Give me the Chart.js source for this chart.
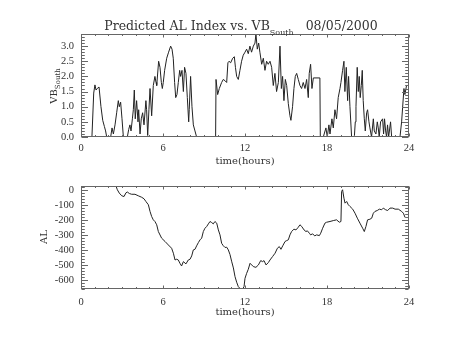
<!DOCTYPE html>
<html>
<head>
<meta charset="utf-8">
<script src="https://cdn.jsdelivr.net/npm/chart.js@4/dist/chart.umd.min.js"></script>
<style>
  html, body { margin: 0; padding: 0; background: #fff; }
  #wrap { position: relative; width: 454px; height: 341px; }
  canvas { position: absolute; left: 0; }
  #vb { top: 0; }
  #al { top: 170px; }
</style>
</head>
<body>
<div id="wrap">
  <canvas id="vb" width="454" height="170"></canvas>
  <canvas id="al" width="454" height="171"></canvas>
</div>
<script>
// tick labels
const hourTicks = [0, 6, 12, 18, 24];
const vbTicks = [0, 0.5, 1, 1.5, 2, 2.5, 3];
const alTicks = [0, -100, -200, -300, -400, -500, -600];

// VB south (mV/m) against time in hours
const vbHours = [0, 0.8, 0.93, 1.02, 1.1, 1.19, 1.32, 1.46, 1.59, 1.71, 1.8, 1.88,
  2.17, 2.27, 2.37, 2.49, 2.61, 2.73, 2.8, 2.9, 3.0, 3.1,
  3.39, 3.49, 3.58, 3.66, 3.76, 3.83, 3.9, 3.97, 4.07, 4.17, 4.22, 4.32, 4.41, 4.51, 4.61, 4.75, 4.8, 4.88, 4.97,
  5.05, 5.17, 5.29, 5.41, 5.49, 5.54, 5.68, 5.78, 5.88, 5.95, 6.02, 6.12, 6.27, 6.41, 6.56, 6.66, 6.75, 6.85, 6.93,
  7.02, 7.12, 7.22, 7.29, 7.39, 7.49, 7.58, 7.68, 7.78, 7.88, 7.92, 8.02, 8.12, 8.22, 8.34, 8.46,
  9.85, 9.88, 10.0, 10.12, 10.29, 10.41, 10.56, 10.66, 10.75, 10.83, 10.95, 11.1, 11.22, 11.3, 11.39, 11.51, 11.63,
  11.75, 11.87, 12.0, 12.12, 12.24, 12.36, 12.48, 12.61, 12.73, 12.8, 12.9, 13.0, 13.09, 13.22, 13.34, 13.46, 13.58,
  13.7, 13.83, 13.95, 14.07, 14.19, 14.31, 14.44, 14.56, 14.66, 14.75, 14.85, 14.95, 15.05, 15.17, 15.29, 15.36,
  15.48, 15.58, 15.68, 15.78, 15.9, 16.02, 16.14, 16.26, 16.39, 16.51, 16.63, 16.7, 16.8, 16.9, 17.0, 17.48, 17.51,
  17.73, 17.92, 18.02, 18.14, 18.22, 18.36, 18.46, 18.58, 18.7, 18.82, 18.95, 19.02, 19.14, 19.24, 19.31, 19.41,
  19.51, 19.58, 19.68, 19.8,
  20.0, 20.07, 20.12, 20.21, 20.29, 20.36, 20.43, 20.51, 20.58, 20.65, 20.73, 20.8, 20.9, 20.97, 21.07, 21.14,
  21.26, 21.39, 21.46, 21.58, 21.68, 21.75, 21.82, 21.92, 22.07, 22.14, 22.21, 22.29, 22.36, 22.43, 22.51, 22.65, 22.73,
  23.34, 23.46, 23.63, 23.7, 23.82];
const vbSouth = [0, 0, 1.45, 1.72, 1.55, 1.6, 1.65, 1.0, 0.55, 0.35, 0.2, 0,
  0, 0.3, 0.1, 0.4, 0.8, 1.2, 1.0, 1.15, 0.6, 0,
  0, 0.25, 0.4, 0.2, 0.6, 0.9, 1.55, 0.6, 1.2, 0.5, 0.9, 0.1, 0.6, 0.8, 0.4, 1.2, 0.9, 0.05, 0.9,
  1.6, 0.7, 1.7, 2.0, 1.8, 1.7, 2.5, 2.3, 1.8, 1.6, 1.8, 2.2, 2.6, 2.8, 3.0, 2.9, 2.6, 1.8, 1.3,
  1.4, 1.8, 2.2, 2.0, 2.2, 1.5, 2.3, 2.1, 1.3, 0.5, 0.9, 2.0, 1.0, 0.4, 0.2, 0,
  0, 1.9, 1.4, 1.6, 1.8, 1.9, 1.85, 1.8, 2.45, 2.5, 2.45, 2.6, 2.65, 2.3, 2.0, 1.9, 2.2,
  2.5, 2.7, 2.8, 2.9, 2.75, 3.0, 2.8, 3.0, 3.1, 3.4, 2.9, 3.1, 2.8, 2.4, 2.6, 2.2, 2.5,
  2.4, 2.5, 2.3, 1.7, 2.1, 1.5, 1.8, 3.0, 1.6, 2.0, 1.2, 1.9, 1.7, 1.1, 0.7, 0.55,
  1.0, 1.6, 2.0, 2.1, 1.9, 1.7, 1.6, 1.8, 1.6, 1.9, 1.3, 2.1, 2.4, 1.6, 1.95, 1.95, 0,
  0, 0.3, 0, 0.4, 0.1, 0.6, 0.3, 0.9, 0.6, 1.3, 1.6, 1.8, 2.2, 2.5, 1.5, 2.3,
  1.2, 2.0, 1.0, 0,
  0, 0.5, 1.0, 2.3, 1.5, 2.0, 1.3, 1.7, 2.2, 1.2, 0.6, 0.2, 0.8, 0.9, 0.5, 0.3,
  0, 0.6, 0.2, 0.1, 0.5, 0.3, 0, 0.5, 0.6, 0.1, 0.6, 0.2, 0, 0.4, 0, 0.5, 0,
  0, 0.5, 1.6, 1.4, 1.7];

// predicted AL index (nT)
const alHours = [0, 2.56, 2.66, 2.8, 2.98, 3.15, 3.29, 3.39, 3.54, 3.71, 3.95, 4.19, 4.44, 4.61, 4.75, 4.93,
  5.05, 5.17, 5.29, 5.41, 5.54, 5.66, 5.9, 6.15, 6.39, 6.63, 6.76, 6.88, 7.0, 7.12, 7.24, 7.36, 7.49, 7.68, 7.85,
  7.98, 8.1, 8.22, 8.34, 8.46, 8.59, 8.71, 8.83, 8.95, 9.07, 9.2, 9.32, 9.44, 9.56, 9.68, 9.8, 9.93, 10.05, 10.17,
  10.29, 10.41, 10.54, 10.66, 10.78, 10.9, 11.02, 11.15, 11.27, 11.39, 11.51, 11.63, 11.83, 11.93, 12.0, 12.12,
  12.24, 12.37, 12.49, 12.61, 12.8, 12.98, 13.15, 13.29, 13.39, 13.54, 13.71, 13.83, 14.02, 14.2, 14.37, 14.51,
  14.63, 14.76, 14.93, 15.05, 15.17, 15.29, 15.41, 15.58, 15.73, 15.9, 16.02, 16.15, 16.32, 16.46, 16.56, 16.71,
  16.8, 16.95, 17.1, 17.24, 17.44, 17.54, 17.68, 17.85, 17.97, 18.22, 18.46, 18.7, 18.9, 19.02, 19.07, 19.14,
  19.24, 19.32, 19.44, 19.56, 19.68, 19.88, 20.05, 20.22, 20.41, 20.61, 20.73, 20.85, 20.97, 21.14, 21.27, 21.39,
  21.51, 21.68, 21.83, 22.0, 22.12, 22.29, 22.44, 22.61, 22.81, 22.98, 23.22, 23.46, 23.59, 23.71];
const alIndex = [25, 25, 0, -22, -40, -45, -20, -15, -25, -30, -30, -40, -50, -60, -78, -100,
  -144, -178, -200, -211, -233, -278, -322, -344, -367, -389, -422, -467, -462, -467, -489, -507, -478, -493, -467,
  -462, -440, -400, -396, -373, -351, -333, -322, -278, -256, -244, -227, -211, -218, -227, -211, -222, -267, -300,
  -356, -372, -384, -382, -400, -430, -475, -520, -578, -615, -644, -656, -660, -644, -589, -556,
  -529, -489, -500, -511, -516, -500, -471, -478, -471, -500, -484, -467, -444, -422, -389, -378,
  -396, -373, -344, -338, -333, -300, -278, -262, -267, -249, -233, -244, -267, -278, -273, -289,
  -300, -293, -307, -300, -305, -289, -256, -222, -216, -211, -205, -200, -216, -211, -11, 0,
  -56, -89, -78, -100, -111, -129, -156, -189, -222, -256, -278, -244, -200, -196, -189, -156,
  -144, -138, -129, -133, -122, -133, -138, -122, -122, -129, -129, -144, -156, -184];

const serif = 'DejaVu Serif';
const tickFont = 'Liberation Serif';
const ink = '#333';

// box with inward major/minor ticks on all four sides
const framePlugin = {
  id: 'frame',
  afterDatasetsDraw(chart, args, opts) {
    const { ctx, chartArea: a, scales } = chart;
    const x = scales.x, y = scales.y;
    const L = Math.round(a.left) + 0.5, R = Math.round(a.right) - 0.5;
    const T = Math.round(a.top) + 0.5, B = Math.round(a.bottom) - 0.5;
    ctx.save();
    ctx.strokeStyle = '#666';
    ctx.lineWidth = 1;
    ctx.strokeRect(L, T, R - L, B - T);
    ctx.beginPath();
    for (let v = 0; v <= 24; v += opts.xMinor) {
      const px = Math.round(x.getPixelForValue(v)) + 0.5;
      const len = v % 6 === 0 ? 3 : 1.5;
      ctx.moveTo(px, B); ctx.lineTo(px, B - len);
      ctx.moveTo(px, T); ctx.lineTo(px, T + len);
    }
    const n = Math.round((y.max - y.min) / opts.yMinor) + 2;
    const start = Math.ceil(y.min / opts.yMinor) * opts.yMinor;
    for (let i = 0; i < n; i++) {
      const v = start + i * opts.yMinor;
      if (v > y.max + 1e-9) break;
      const major = Math.abs(v / opts.yMajor - Math.round(v / opts.yMajor)) < 1e-6;
      const py = Math.round(y.getPixelForValue(v)) + 0.5;
      const len = major ? 6.5 : 3.3;
      ctx.moveTo(L, py); ctx.lineTo(L + len, py);
      ctx.moveTo(R, py); ctx.lineTo(R - len, py);
    }
    ctx.stroke();
    ctx.restore();
  }
};

// rotated y title with an optional subscript
const yTitlePlugin = {
  id: 'ytitle',
  afterDraw(chart, args, opts) {
    const { ctx } = chart;
    ctx.save();
    ctx.fillStyle = ink;
    ctx.translate(opts.x, opts.y);
    ctx.rotate(-Math.PI / 2);
    ctx.textBaseline = 'alphabetic';
    ctx.font = '10px "' + serif + '"';
    const w1 = ctx.measureText(opts.text).width;
    ctx.font = '7px "' + serif + '"';
    const w2 = opts.sub ? ctx.measureText(opts.sub).width : 0;
    const x0 = -(w1 + w2) / 2;
    ctx.font = '10px "' + serif + '"';
    ctx.fillText(opts.text, x0, 0);
    if (opts.sub) {
      ctx.font = '7px "' + serif + '"';
      ctx.fillText(opts.sub, x0 + w1, 3);
    }
    ctx.restore();
  }
};

// main title: "Predicted AL Index vs. VB_South   08/05/2000"
const titlePlugin = {
  id: 'maintitle',
  afterDraw(chart, args, opts) {
    if (!opts.text) return;
    const { ctx } = chart;
    ctx.save();
    ctx.fillStyle = ink;
    ctx.textBaseline = 'alphabetic';
    ctx.font = '12.5px "' + serif + '"';
    const w1 = ctx.measureText(opts.text).width;
    const w3 = ctx.measureText(opts.date).width;
    ctx.font = '8px "' + serif + '"';
    const w2 = ctx.measureText(opts.sub).width;
    const gap = 12;
    let x0 = opts.cx - (w1 + w2 + gap + w3) / 2;
    ctx.font = '12.5px "' + serif + '"';
    ctx.fillText(opts.text, x0, opts.y);
    ctx.fillText(opts.date, x0 + w1 + w2 + gap, opts.y);
    ctx.font = '8px "' + serif + '"';
    ctx.fillText(opts.sub, x0 + w1, opts.y + 5);
    ctx.restore();
  }
};

function makeChart(id, hours, values, cfg) {
  const ctx = document.getElementById(id).getContext('2d');
  return new Chart(ctx, {
    type: 'line',
    data: {
      datasets: [{
        data: hours.map((h, i) => ({ x: h, y: values[i] })),
        borderColor: '#222',
        borderWidth: 1,
        pointRadius: 0,
        tension: 0,
        fill: false
      }]
    },
    options: {
      responsive: false,
      animation: false,
      devicePixelRatio: 1,
      layout: { padding: { left: 0, right: 45, top: cfg.top, bottom: 0 } },
      plugins: {
        legend: { display: false },
        tooltip: { enabled: false },
        frame: { xMinor: 1, yMinor: cfg.yMinor, yMajor: cfg.yMajor },
        ytitle: cfg.ytitle,
        maintitle: cfg.title || {}
      },
      scales: {
        x: {
          type: 'linear',
          min: 0,
          max: 24,
          afterBuildTicks: s => { s.ticks = hourTicks.map(v => ({ value: v })); },
          afterFit: s => { s.height = cfg.xHeight; },
          grid: { display: false, drawTicks: false },
          border: { display: false },
          ticks: { color: ink, font: { family: tickFont, size: 10.5 }, padding: cfg.xPad, maxRotation: 0 },
          title: {
            display: true,
            text: 'time(hours)',
            color: ink,
            font: { family: serif, size: 10 },
            padding: { top: 0, bottom: cfg.xTitlePad }
          }
        },
        y: {
          type: 'linear',
          min: cfg.yMin,
          max: cfg.yMax,
          afterBuildTicks: s => { s.ticks = cfg.yTicks.map(v => ({ value: v })); },
          afterFit: s => { s.width = 81; },
          grid: { display: false, drawTicks: false },
          border: { display: false },
          ticks: { color: ink, font: { family: tickFont, size: 10.5 }, padding: 7, callback: cfg.fmt }
        }
      }
    },
    plugins: [framePlugin, yTitlePlugin, titlePlugin]
  });
}

makeChart('vb', vbHours, vbSouth, {
  top: 34, xHeight: 33, xPad: 5, xTitlePad: 3,
  yMin: 0, yMax: 3.4, yTicks: vbTicks, yMinor: 0.1, yMajor: 0.5,
  fmt: v => v.toFixed(1),
  ytitle: { x: 56.5, y: 86, text: 'VB', sub: 'South' },
  title: { cx: 241, y: 29.5, text: 'Predicted AL Index vs. VB', sub: 'South', date: '08/05/2000' }
});

makeChart('al', alHours, alIndex, {
  top: 16, xHeight: 52, xPad: 7, xTitlePad: 23,
  yMin: -660, yMax: 25, yTicks: alTicks, yMinor: 20, yMajor: 100,
  fmt: v => String(v),
  ytitle: { x: 47, y: 67, text: 'AL' }
});
</script>
</body>
</html>
